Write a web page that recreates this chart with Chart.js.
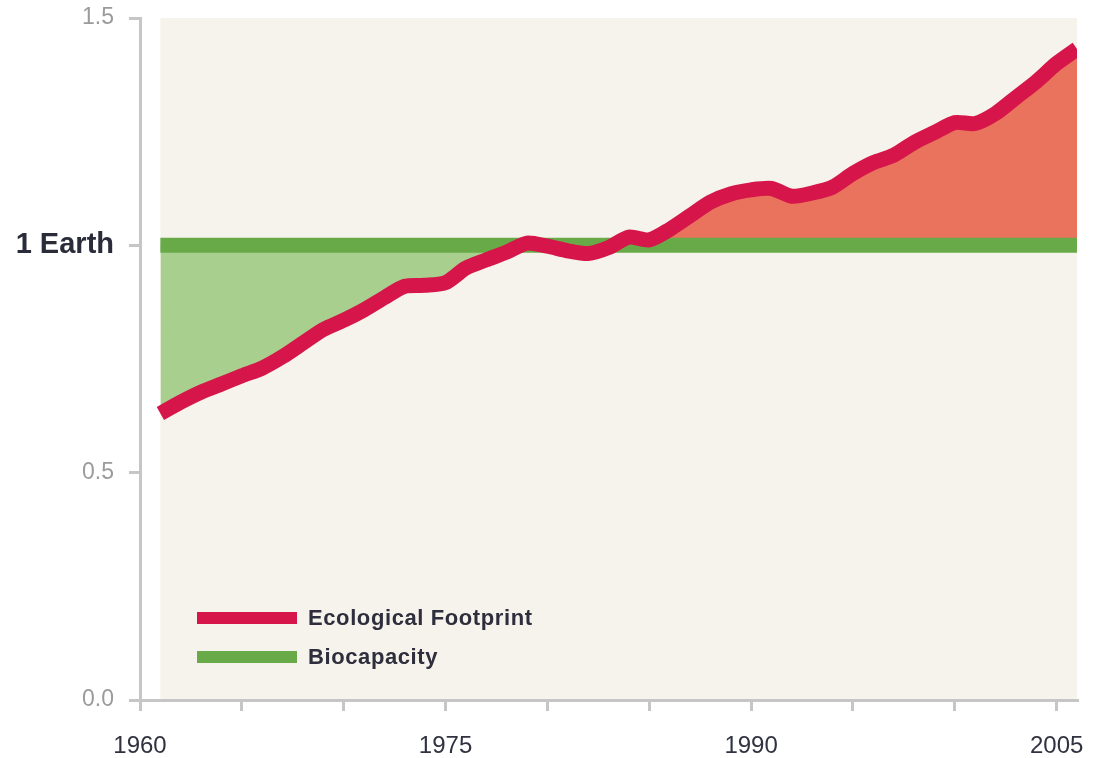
<!DOCTYPE html>
<html>
<head>
<meta charset="utf-8">
<script src="https://cdn.jsdelivr.net/npm/chart.js@4"></script>
<style>
  body { margin: 0; background: #fff; }
  #wrap { position: relative; width: 1097px; height: 758px; }
  .legend-item { position: absolute; left: 197px; height: 24px; display: flex; align-items: center;
    font: bold 22px "Liberation Sans", Arial, sans-serif; letter-spacing: 0.6px; color: #2e2e3c; }
  .swatch { width: 100px; height: 12px; margin-right: 11px; }
</style>
</head>
<body>
<div id="wrap">
  <canvas id="myChart" width="1097" height="758"></canvas>
  <div class="legend-item" style="top:606px"><span class="swatch" style="background:#d6154b"></span>Ecological Footprint</div>
  <div class="legend-item" style="top:645px"><span class="swatch" style="background:#69aa48"></span>Biocapacity</div>
</div>
<script>
// humanity's footprint, in number of Earths
const years = [1961, 1962, 1963, 1964, 1965, 1966, 1967, 1968, 1969, 1970,
  1971, 1972, 1973, 1974, 1975, 1976, 1977, 1978, 1979, 1980,
  1981, 1982, 1983, 1984, 1985, 1986, 1987, 1988, 1989, 1990,
  1991, 1992, 1993, 1994, 1995, 1996, 1997, 1998, 1999, 2000,
  2001, 2002, 2003, 2004, 2005, 2006];
const footprint = [0.63, 0.655, 0.677, 0.695, 0.713, 0.73, 0.755, 0.785, 0.815, 0.835,
  0.858, 0.885, 0.91, 0.912, 0.918, 0.95, 0.968, 0.985, 1.005, 0.998,
  0.988, 0.982, 0.995, 1.018, 1.012, 1.035, 1.065, 1.095, 1.113, 1.122,
  1.125, 1.108, 1.115, 1.128, 1.158, 1.182, 1.198, 1.226, 1.248, 1.27,
  1.268, 1.29, 1.325, 1.36, 1.40, 1.432];
const biocapacityYears = [1961, 2006];
const biocapacity = [1.0, 1.0];

const xTickLabels = [1960, 1975, 1990, 2005];
const yTickValues = [0, 0.5, 1, 1.5];
const yTickLabels = ['0.0', '0.5', '1 Earth', '1.5'];

const axisGrey = '#c6c6c6';

const plotBackground = {
    id: 'plotBackground',
    beforeDraw(chart) {
        const { ctx, chartArea, scales } = chart;
        const x0 = scales.x.getPixelForValue(years[0]);
        const x1 = scales.x.getPixelForValue(years[years.length - 1]);
        ctx.save();
        ctx.fillStyle = '#f6f3ec';
        ctx.fillRect(x0, chartArea.top, x1 - x0, chartArea.bottom - chartArea.top);
        ctx.restore();
    }
};

const ctx = document.getElementById('myChart').getContext('2d');

new Chart(ctx, {
    type: 'line',
    data: {
        datasets: [
            {
                label: 'Ecological Footprint',
                data: years.map((y, i) => ({ x: y, y: footprint[i] })),
                borderColor: '#d6154b',
                borderWidth: 15,
                pointRadius: 0,
                tension: 0.25,
                borderJoinStyle: 'round',
                fill: { value: 1, above: '#e9735c', below: '#a8cf8d' },
            },
            {
                label: 'Biocapacity',
                data: biocapacityYears.map((y, i) => ({ x: y, y: biocapacity[i] })),
                borderColor: '#69aa48',
                borderWidth: 15,
                borderCapStyle: 'butt',
                pointRadius: 0,
                fill: false,
            },
        ],
    },
    options: {
        responsive: false,
        animation: false,
        layout: { padding: { top: 18, right: 20, left: 0, bottom: 0 } },
        plugins: {
            legend: { display: false },
            tooltip: { enabled: false },
            filler: { drawTime: 'beforeDatasetsDraw' },
        },
        scales: {
            x: {
                type: 'linear',
                min: 1960,
                max: 2006,
                afterFit: scale => {
                    scale.height = 58;
                    scale.paddingLeft = 0;
                    scale.paddingRight = 0;
                },
                border: { color: axisGrey, width: 3 },
                grid: { drawOnChartArea: false, color: axisGrey, lineWidth: 3, tickLength: 11 },
                ticks: {
                    stepSize: 5,
                    includeBounds: false,
                    autoSkip: false,
                    maxRotation: 0,
                    padding: 21,
                    color: '#30323f',
                    font: { family: 'Liberation Sans, Arial, sans-serif', size: 24 },
                    callback: v => xTickLabels.includes(v) ? String(v) : '',
                },
            },
            y: {
                min: 0,
                max: 1.5,
                afterFit: scale => {
                    scale.width = 140;
                    scale.paddingTop = 0;
                    scale.paddingBottom = 0;
                },
                afterBuildTicks: scale => { scale.ticks = yTickValues.map(v => ({ value: v })); },
                border: { color: axisGrey, width: 3 },
                grid: { drawOnChartArea: false, color: axisGrey, lineWidth: 3, tickLength: 11 },
                ticks: {
                    padding: 15,
                    color: c => c.tick && c.tick.value === 1 ? '#2b2c3a' : '#9b9b9b',
                    font: c => c.tick && c.tick.value === 1
                        ? { family: 'Liberation Sans, Arial, sans-serif', size: 29, weight: 'bold' }
                        : { family: 'Liberation Sans, Arial, sans-serif', size: 23 },
                    callback: v => yTickLabels[yTickValues.indexOf(v)],
                },
            },
        },
    },
    plugins: [plotBackground],
});
</script>
</body>
</html>
